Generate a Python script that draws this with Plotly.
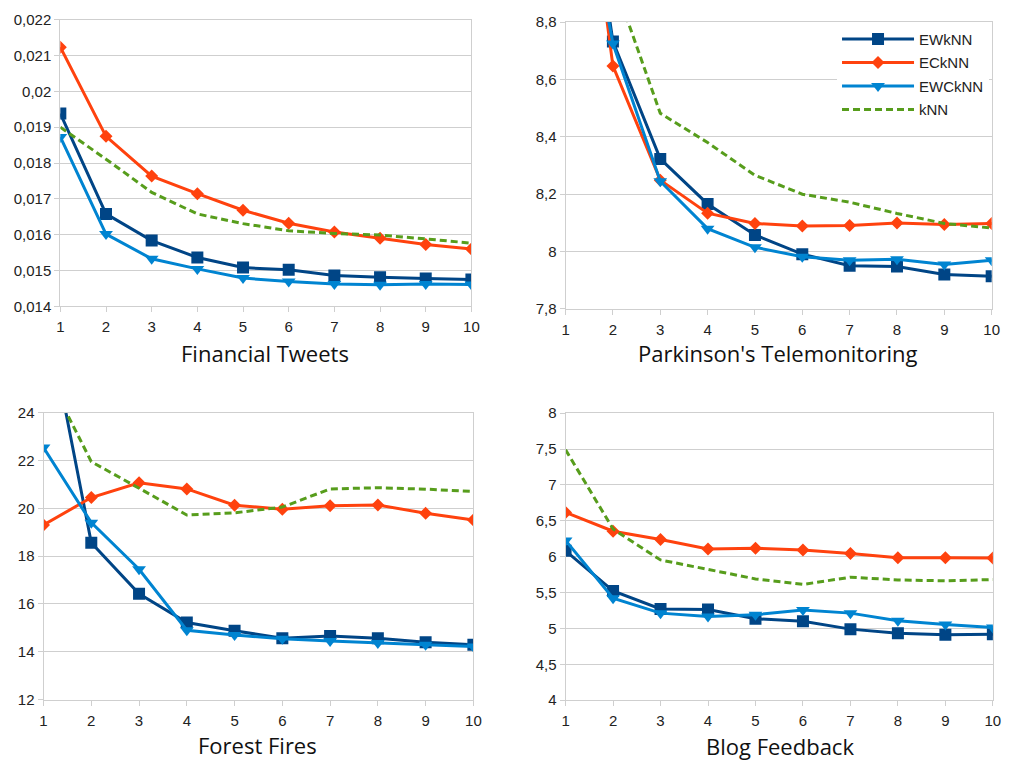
import plotly.graph_objects as go

k = [1, 2, 3, 4, 5, 6, 7, 8, 9, 10]
series_names = ["EWkNN", "ECkNN", "EWCkNN", "kNN"]

# Financial Tweets
ft_ewknn = [0.01938, 0.01658, 0.015836, 0.015364, 0.015082, 0.015018, 0.014864, 0.01481, 0.01478, 0.01475]
ft_ecknn = [0.021236, 0.018745, 0.017636, 0.017145, 0.016682, 0.016318, 0.016073, 0.0159, 0.015727, 0.0156]
ft_ewcknn = [0.018727, 0.016018, 0.015327, 0.015045, 0.01479, 0.01469, 0.014627, 0.0146, 0.014627, 0.01461]
ft_knn = [0.019, 0.018109, 0.017182, 0.01658, 0.016309, 0.016109, 0.016036, 0.01599, 0.015882, 0.015764]

# Parkinson's Telemonitoring
pt_ewknn = [9.85, 8.732, 8.323, 8.166, 8.058, 7.991, 7.951, 7.948, 7.920, 7.914]
pt_ecknn = [9.9, 8.647, 8.249, 8.134, 8.098, 8.089, 8.091, 8.100, 8.094, 8.098]
pt_ewcknn = [9.6, 8.725, 8.245, 8.080, 8.015, 7.982, 7.970, 7.973, 7.955, 7.970]
pt_knn = [9.6, 8.95, 8.482, 8.38, 8.266, 8.2, 8.172, 8.133, 8.098, 8.082]

# Forest Fires
ff_ewknn = [28.8, 18.56, 16.42, 15.22, 14.88, 14.56, 14.66, 14.56, 14.40, 14.29]
ff_ecknn = [19.30, 20.45, 21.07, 20.81, 20.13, 19.96, 20.11, 20.14, 19.79, 19.51]
ff_ewcknn = [22.54, 19.40, 17.45, 14.90, 14.70, 14.54, 14.45, 14.36, 14.29, 14.22]
ff_knn = [25.9, 21.95, 20.84, 19.72, 19.81, 20.05, 20.81, 20.86, 20.80, 20.70]

# Blog Feedback
bf_ewknn = [6.082, 5.523, 5.273, 5.264, 5.136, 5.10, 4.991, 4.932, 4.914, 4.918]
bf_ecknn = [6.618, 6.355, 6.241, 6.109, 6.118, 6.095, 6.045, 5.986, 5.986, 5.982]
bf_ewcknn = [6.227, 5.423, 5.214, 5.168, 5.191, 5.259, 5.214, 5.109, 5.055, 5.014]
bf_knn = [7.491, 6.386, 5.955, 5.818, 5.691, 5.614, 5.714, 5.677, 5.664, 5.682]

panel_titles = ["Financial Tweets", "Parkinson's Telemonitoring", "Forest Fires", "Blog Feedback"]

ft_yticks = [0.014, 0.015, 0.016, 0.017, 0.018, 0.019, 0.020, 0.021, 0.022]
ft_ylabels = ["0,014", "0,015", "0,016", "0,017", "0,018", "0,019", "0,02", "0,021", "0,022"]
pt_yticks = [7.8, 8.0, 8.2, 8.4, 8.6, 8.8]
pt_ylabels = ["7,8", "8", "8,2", "8,4", "8,6", "8,8"]
ff_yticks = [12, 14, 16, 18, 20, 22, 24]
ff_ylabels = ["12", "14", "16", "18", "20", "22", "24"]
bf_yticks = [4, 4.5, 5, 5.5, 6, 6.5, 7, 7.5, 8]
bf_ylabels = ["4", "4,5", "5", "5,5", "6", "6,5", "7", "7,5", "8"]

panels = [
    dict(data=[ft_ewknn, ft_ecknn, ft_ewcknn, ft_knn], yticks=ft_yticks, ylabels=ft_ylabels,
         xdom=[57 / 1014, 473 / 1014], ydom=[1 - 304 / 776, 1 - 11 / 776], title_xy=(264, 352)),
    dict(data=[pt_ewknn, pt_ecknn, pt_ewcknn, pt_knn], yticks=pt_yticks, ylabels=pt_ylabels,
         xdom=[568.3 / 1014, 999.5 / 1014], ydom=[1 - 306.7 / 776, 1 - 13.3 / 776], title_xy=(783, 352)),
    dict(data=[ff_ewknn, ff_ecknn, ff_ewcknn, ff_knn], yticks=ff_yticks, ylabels=ff_ylabels,
         xdom=[40 / 1014, 475 / 1014], ydom=[1 - 706 / 776, 1 - 412.7 / 776], title_xy=(257, 752)),
    dict(data=[bf_ewknn, bf_ecknn, bf_ewcknn, bf_knn], yticks=bf_yticks, ylabels=bf_ylabels,
         xdom=[568.3 / 1014, 1000.7 / 1014], ydom=[1 - 706.7 / 776, 1 - 413.3 / 776], title_xy=(785, 754)),
]

styles = [
    dict(color="#004586", symbol="square", size=12, dash="solid"),
    dict(color="#ff420e", symbol="diamond", size=10, dash="solid"),
    dict(color="#0084d1", symbol="triangle-down", size=12, dash="solid"),
    dict(color="#579d1c", symbol=None, size=0, dash="7px,4px"),
]

fig = go.Figure()
grid = "#cfcfcf"
tickfont = dict(family="Liberation Sans, Arial, sans-serif", size=15, color="#222222")

for i, p in enumerate(panels):
    n = "" if i == 0 else str(i + 1)
    xa, ya = "x" + n, "y" + n
    for j, (vals, st) in enumerate(zip(p["data"], styles)):
        kw = dict(x=k, y=vals, xaxis=xa, yaxis=ya, name=series_names[j], legendgroup=series_names[j],
                  showlegend=(i == 1),
                  line=dict(color=st["color"], width=3, dash=st["dash"]))
        if st["symbol"]:
            kw["mode"] = "lines+markers"
            kw["marker"] = dict(symbol=st["symbol"], size=st["size"], color=st["color"])
        else:
            kw["mode"] = "lines"
        fig.add_trace(go.Scatter(**kw))
    fig.layout["xaxis" + n] = dict(domain=p["xdom"], anchor=ya, range=[1, 10], tickvals=k,
                                  ticktext=[str(v) for v in k], showgrid=False, zeroline=False,
                                  showline=True, linecolor=grid, linewidth=1, mirror=True,
                                  ticks="outside", ticklen=5, tickcolor=grid, tickfont=tickfont,
                                  ticklabelstandoff=2)
    fig.layout["yaxis" + n] = dict(domain=p["ydom"], anchor=xa, range=[p["yticks"][0], p["yticks"][-1]],
                                  tickvals=p["yticks"], ticktext=p["ylabels"], showgrid=True,
                                  gridcolor=grid, gridwidth=1, zeroline=False, showline=True,
                                  linecolor=grid, linewidth=1, mirror=True, ticks="outside",
                                  ticklen=5, tickcolor=grid, tickfont=tickfont)
    fig.add_annotation(text=panel_titles[i], x=p["title_xy"][0] / 1014, y=1 - p["title_xy"][1] / 776,
                       xref="paper", yref="paper", xanchor="center", yanchor="middle", showarrow=False,
                       font=dict(family="Open Sans, sans-serif", size=22, color="#111111"))

fig.update_layout(
    width=1014, height=776,
    margin=dict(l=0, r=0, t=0, b=0),
    paper_bgcolor="white", plot_bgcolor="white",
    legend=dict(x=843 / 1014, y=1 - 14 / 776, xanchor="left", yanchor="top",
                bgcolor="white", font=dict(family="Liberation Sans, Arial, sans-serif", size=15, color="#222222"),
                itemwidth=72, tracegroupgap=1),
)

fig.write_html("out.html")
